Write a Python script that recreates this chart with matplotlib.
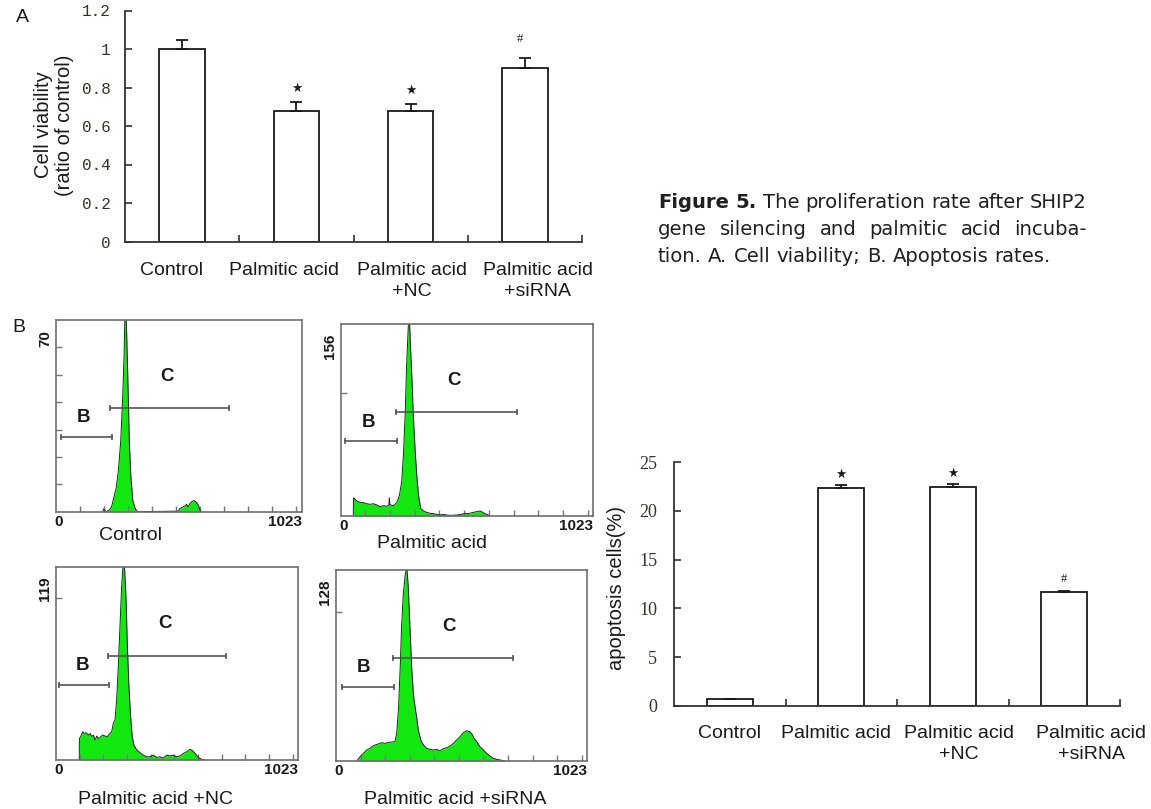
import matplotlib
matplotlib.use('Agg')
import matplotlib.pyplot as plt
import matplotlib.transforms as mtransforms
import numpy as np

# 数据
groups = ['Control', 'Palmitic acid', 'Palmitic acid\n+NC', 'Palmitic acid\n+siRNA']

viability = [1.0, 0.68, 0.68, 0.90]
viability_err = [0.047, 0.044, 0.035, 0.052]
viability_marks = ['', '★', '★', '#']

apoptosis = [0.7, 22.3, 22.4, 11.65]
apoptosis_err = [0.0, 0.3, 0.3, 0.12]
apoptosis_marks = ['', '★', '★', '#']

hist_names = ['Control', 'Palmitic acid', 'Palmitic acid +NC', 'Palmitic acid +siRNA']
hist_ymax = [70, 156, 119, 128]
hist_ystep = [10, 100, 100, 100]

ctrl_ch = [195, 198, 203, 208, 222, 231, 238, 250, 259, 269, 277, 283, 287, 291, 297, 305, 311,
           319, 329, 338, 508, 516, 523, 537, 543, 550, 557, 564, 574, 582, 592, 599, 602]
ctrl_n = [0, 1.0, 0.6, 0, 0.6, 1.8, 4.3, 8.5, 14.6, 25.6, 41, 57, 74, 74, 55, 25.6, 13.4,
          4.3, 1.2, 0, 0.2, 1.2, 1.5, 2.2, 2.7, 1.8, 3.0, 3.6, 4.1, 3.6, 2.4, 0.6, 0]

pa_ch = [51, 52, 58, 65, 78, 92, 105, 119, 132, 146, 159, 173, 186, 195, 197, 199, 202, 213,
         224, 229, 238, 247, 254, 261, 267, 274, 278, 283, 289, 294, 301, 308, 315, 324, 335,
         348, 362, 375, 389, 402, 416, 429, 443, 470, 490, 503, 517, 537, 551, 564, 575, 584,
         598, 605]
pa_n = [0, 14.9, 13.8, 12.2, 11.1, 10.9, 10.0, 9.5, 10.0, 9.0, 7.6, 8.4, 7.9, 9, 14.9, 9, 9.0,
        8.4, 10.3, 11.7, 17.1, 27.9, 49.6, 82.2, 122.9, 155.5, 162, 136.5, 109.3, 82.2, 55.1,
        33.4, 17.1, 6.2, 4.1, 3.0, 2.2, 1.9, 1.4, 0.8, 1.4, 0.8, 0.5, 0.8, 1.4, 2.2, 1.9, 3.0,
        3.5, 4.1, 3.0, 1.9, 0.8, 0]

nc_ch = [98, 99, 104, 113, 118, 127, 137, 144, 151, 158, 165, 172, 179, 189, 197, 207, 217,
         225, 235, 242, 249, 256, 263, 270, 277, 284, 290, 296, 301, 308, 315, 322, 329, 341,
         355, 369, 383, 397, 411, 425, 439, 453, 467, 481, 495, 509, 524, 538, 552, 566, 577,
         587, 601, 615, 629]
nc_n = [0, 13.3, 14.4, 17.4, 16.4, 16.8, 15.4, 16.4, 14.4, 15.4, 12.3, 14.8, 13.3, 14.4, 15.4,
        14.8, 14.4, 16.0, 17.4, 22.6, 24.6, 37.0, 57.5, 82.0, 106.7, 122, 117, 98.5, 71.8,
        45.0, 26.7, 14.4, 9.2, 6.2, 4.5, 3.0, 2.0, 2.0, 3.0, 1.6, 2.0, 1.2, 3.0, 2.5, 3.0,
        2.0, 2.5, 4.1, 5.1, 6.6, 5.7, 4.1, 1.6, 0.4, 0]

si_ch = [84, 98, 111, 125, 138, 145, 159, 172, 186, 200, 213, 227, 240, 247, 254, 261, 267,
         274, 281, 288, 294, 301, 308, 315, 322, 328, 335, 345, 356, 369, 383, 396, 410, 423,
         437, 451, 464, 478, 491, 505, 518, 532, 543, 552, 562, 573, 586, 600, 613, 627, 640,
         654, 668, 688]
si_n = [0, 2.9, 5.1, 7.4, 8.5, 9.6, 10.7, 11.4, 12.3, 11.8, 12.5, 12.7, 13.0, 18.5, 34, 61, 90,
        112, 123.5, 131, 117, 90, 63, 45, 36, 29.7, 20.8, 14.0, 10.7, 8.5, 7.8, 7.4, 7.8, 6.9,
        8.3, 8.9, 10.0, 11.8, 14.1, 16.3, 19.0, 20.3, 19.7, 18.5, 15.2, 13.0, 9.6, 7.4, 5.1,
        3.4, 1.8, 1.1, 0.7, 0]

hist_ch = [ctrl_ch, pa_ch, nc_ch, si_ch]
hist_n = [ctrl_n, pa_n, nc_n, si_n]
gate_b = [(19, 234), (17, 229), (14, 224), (26, 237)]
gate_c = [(225, 719), (224, 713), (218, 717), (233, 719)]

caption_rows = ['Figure 5. The proliferation rate after SHIP2',
                'gene silencing and palmitic acid incuba-',
                'tion. A. Cell viability; B. Apoptosis rates.']

# 画布
W, H = 1151, 809
fig = plt.figure(figsize=(W / 100, H / 100), dpi=100)
SANS = ['Liberation Sans', 'DejaVu Sans']
SERIF = ['Liberation Serif', 'DejaVu Serif']
MONO = ['Liberation Mono', 'DejaVu Sans Mono']
CAP = ['DejaVu Sans']
GREEN = '#10e810'
INK = '#1a1a1a'


def px_axes(l, t, r, b):
    return fig.add_axes([l / W, 1 - b / H, (r - l) / W, (b - t) / H])


def bar_panel(ax, values, errors, marks, offsets, ymax, yticks, ylabels, width,
              label_shift, tick_family, tick_size, tick_pad, xpad):
    x = np.arange(len(values))
    ax.bar(x, values, width=width, color='white', edgecolor=INK, linewidth=1.3, zorder=2)
    ax.errorbar(x, values, yerr=[np.zeros(len(errors)), errors], fmt='none', ecolor=INK,
                elinewidth=1.3, capsize=4.5, capthick=1.3, zorder=3)
    for i, (v, e, m) in enumerate(zip(values, errors, marks)):
        if not m:
            continue
        dx, dy = offsets[m]
        fam = ['DejaVu Sans'] if m == '★' else SERIF
        ax.annotate(m, (i, v + e), xytext=(dx, dy), textcoords='offset points',
                    ha='center', va='center', fontsize=9 if m == '★' else 9,
                    family=fam, color=INK)
    ax.set_xlim(-0.5, len(values) - 0.5)
    ax.set_ylim(0, ymax)
    for s in ['top', 'right']:
        ax.spines[s].set_visible(False)
    for s in ['left', 'bottom']:
        ax.spines[s].set_linewidth(1.3)
        ax.spines[s].set_color('#333333')
    ax.set_yticks(yticks)
    ax.set_yticklabels(ylabels, family=tick_family, fontsize=tick_size, color='#3a3026')
    ax.tick_params(axis='y', direction='in', length=5, width=1.2, pad=tick_pad, color='#333333')
    ax.set_xticks(x + np.array(label_shift))
    ax.set_xticklabels(groups, family=SANS, fontsize=14, linespacing=1.3, color=INK)
    ax.tick_params(axis='x', which='major', length=0, pad=xpad)
    ax.set_xticks(np.arange(0.5, len(values), 1), minor=True)
    ax.tick_params(axis='x', which='minor', direction='in', length=5, width=1.2, color='#333333')


# A: 细胞活力
axA = px_axes(125, 10.5, 582, 241.5)
bar_panel(axA, viability, viability_err, viability_marks, {'★': (0, 9.5), '#': (-3.5, 14)},
          1.2, [0, 0.2, 0.4, 0.6, 0.8, 1.0, 1.2], ['0', '0.2', '0.4', '0.6', '0.8', '1', '1.2'],
          0.40, [-0.096, -0.105, 0.01, 0.114], MONO, 11.5, 10.5, 15)
fig.text(54 / W, 1 - 125 / H, 'Cell viability\n(ratio of control)', rotation=90, ha='center',
         va='center', fontsize=14.5, family=SANS, linespacing=1.15, color=INK)

# B: 凋亡率
axB = px_axes(674, 462, 1120, 706)
bar_panel(axB, apoptosis, apoptosis_err, apoptosis_marks, {'★': (0, 8), '#': (0, 9)},
          25, [0, 5, 10, 15, 20, 25], ['0', '5', '10', '15', '20', '25'],
          0.416, [0, -0.045, 0.054, 0.24], SERIF, 13, 12, 14)
fig.text(617 / W, 1 - 588 / H, 'apoptosis cells(%)', rotation=90, ha='center', va='center',
         fontsize=14.5, family=SANS, color=INK)

# B: 流式直方图
hist_boxes = [(56, 320, 302, 511.7), (340.7, 324.3, 593.3, 516),
              (56, 567, 298.3, 760), (336, 570, 587.3, 761)]
name_pos = [(130, 535), (432, 543), (155, 800), (455, 800)]
for i in range(4):
    ax = px_axes(*hist_boxes[i])
    ax.fill_between(hist_ch[i], hist_n[i], color=GREEN, lw=0)
    ax.plot(hist_ch[i], hist_n[i], color='#222222', lw=0.7)
    ax.set_xlim(0, 1023)
    ax.set_ylim(0, hist_ymax[i])
    ax.set_xticks(np.arange(100, 1001, 100))
    ax.set_yticks(np.arange(hist_ystep[i], hist_ymax[i], hist_ystep[i]))
    ax.tick_params(direction='in', length=4, width=1, color='#777777',
                   labelbottom=False, labelleft=False)
    for s in ax.spines.values():
        s.set_color('#6e6e6e')
        s.set_linewidth(1.2)
    trans = mtransforms.blended_transform_factory(ax.transData, ax.transAxes)
    for (g0, g1), gy in [(gate_b[i], 0.39), (gate_c[i], 0.54)]:
        ax.plot([g0, g1], [gy, gy], transform=trans, color='#555555', lw=1.2,
                marker='|', ms=4, mew=1.2, clip_on=False)
    ax.text(0.11, 0.49, 'B', transform=ax.transAxes, ha='center', va='center',
            fontsize=13.5, fontweight='bold', family=SANS, color=INK)
    ax.text(0.45, 0.705, 'C', transform=ax.transAxes, ha='center', va='center',
            fontsize=13.5, fontweight='bold', family=SANS, color=INK)
    ax.annotate(str(hist_ymax[i]), (0, 1), xycoords='axes fraction', xytext=(-8, -7),
                textcoords='offset points', ha='center', va='top', rotation=90,
                fontsize=11, fontweight='bold', family=SANS, color=INK)
    ax.annotate('0', (0, 0), xycoords='axes fraction', xytext=(2, -7.5),
                textcoords='offset points', ha='center', va='center',
                fontsize=11, fontweight='bold', family=SANS, color=INK)
    ax.annotate('1023', (1, 0), xycoords='axes fraction', xytext=(0, -7.5),
                textcoords='offset points', ha='right', va='center',
                fontsize=11, fontweight='bold', family=SANS, color=INK)
    fig.text(name_pos[i][0] / W, 1 - name_pos[i][1] / H, hist_names[i], ha='center',
             va='center', fontsize=14, family=SANS, color=INK)

# 面板标记
fig.text(22 / W, 1 - 17 / H, 'A', ha='center', va='center', fontsize=14, family=SANS, color=INK)
fig.text(19 / W, 1 - 328 / H, 'B', ha='center', va='center', fontsize=14, family=SANS, color=INK)

# 图注: 按第三行宽度定字号, 前两行两端对齐
renderer = fig.canvas.get_renderer()
cap_x0, cap_x1 = 658, 1087
cap_last_w = 394
cap_base = [208, 235, 261.5]
cap_size = 13
rows = []
for r, row in enumerate(caption_rows):
    words = row.split(' ')
    texts = []
    for k, w in enumerate(words):
        bold = (r == 0 and k < 2)
        texts.append(fig.text(0, 0, w, fontsize=cap_size, family=CAP, va='baseline',
                              fontweight='bold' if bold else 'normal', color='#231f20'))
    rows.append(texts)

def natural_width(texts, size):
    ws = [t.get_window_extent(renderer).width for t in texts]
    return sum(ws) + (len(texts) - 1) * size * 100 / 72 * 0.318

scale = cap_last_w / natural_width(rows[2], cap_size)
cap_size = cap_size * scale
for texts in rows:
    for t in texts:
        t.set_fontsize(cap_size)

for r, texts in enumerate(rows):
    widths = [t.get_window_extent(renderer).width for t in texts]
    if r < 2:
        gap = (cap_x1 - cap_x0 - sum(widths)) / (len(texts) - 1)
    else:
        gap = cap_size * 100 / 72 * 0.318
    x = cap_x0
    for t, w in zip(texts, widths):
        t.set_position((x / W, 1 - cap_base[r] / H))
        x += w + gap

fig.savefig('out.png', dpi=100)
